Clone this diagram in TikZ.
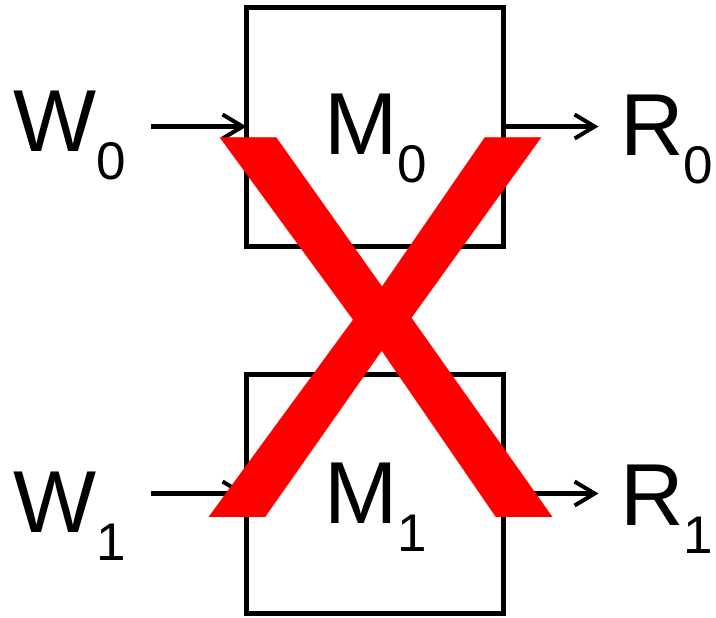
\documentclass[tikz,border=0pt]{standalone}
\usepackage{fontspec}
\setmainfont{Liberation Sans}
\usetikzlibrary{positioning, calc, arrows.meta}
\definecolor{CrossRed}{RGB}{255, 0, 0}
\newcommand{\sublbl}[2]{#1\raisebox{-14pt}{\fontsize{26.5}{30}\selectfont #2}}

\begin{document}
\begin{tikzpicture}[
    % one unit = one pixel of the 716 x 617 frame, y runs downwards
    x=0.5pt, y=-0.5pt,
    membox/.style={draw=black, line width=2.5pt, minimum width=128.5pt,
                   minimum height=119.5pt, inner sep=0pt, outer sep=0pt},
    sig/.style={inner sep=0pt, font=\fontsize{44}{50}\selectfont},
    arr/.style={-{Straight Barb[length=10pt, width=12pt, line width=2pt]},
                line width=2.5pt},
    crossmark/.style={inner sep=0pt, text=CrossRed,
                      font=\fontsize{276}{276}\selectfont}
  ]
  \useasboundingbox (0,0) rectangle (716,617);

  % ── Memory boxes ─────────────────────────────────────────────
  \node[membox] (m0box) at (375, 126.5) {};
  \node[membox] (m1box) at (375, 493.5) {};

  \node[sig, anchor=base] (m0) at (376, 154) {\sublbl{M}{0}};
  \node[sig, anchor=base] (m1) at (376, 523) {\sublbl{M}{1}};

  % ── Write ports (left) and read ports (right) ───────────────
  \node[sig, anchor=base west] (w0) at ( 13, 151) {\sublbl{W}{0}};
  \node[sig, anchor=base west] (w1) at ( 13, 532) {\sublbl{W}{1}};
  \node[sig, anchor=base west] (r0) at (620, 155) {\sublbl{R}{0}};
  \node[sig, anchor=base west] (r1) at (620, 525) {\sublbl{R}{1}};

  \draw[arr] ($(m0box.west)+(-96,0)$) -- (m0box.west);
  \draw[arr] ($(m1box.west)+(-96,0)$) -- (m1box.west);
  \draw[arr] (m0box.east) -- ($(m0box.east)+(95,0)$);
  \draw[arr] (m1box.east) -- ($(m1box.east)+(95,0)$);

  % ── Big red cross on top ────────────────────────────────────
  \node[crossmark, anchor=base] (cross) at (381, 517) {X};

\end{tikzpicture}
\end{document}
